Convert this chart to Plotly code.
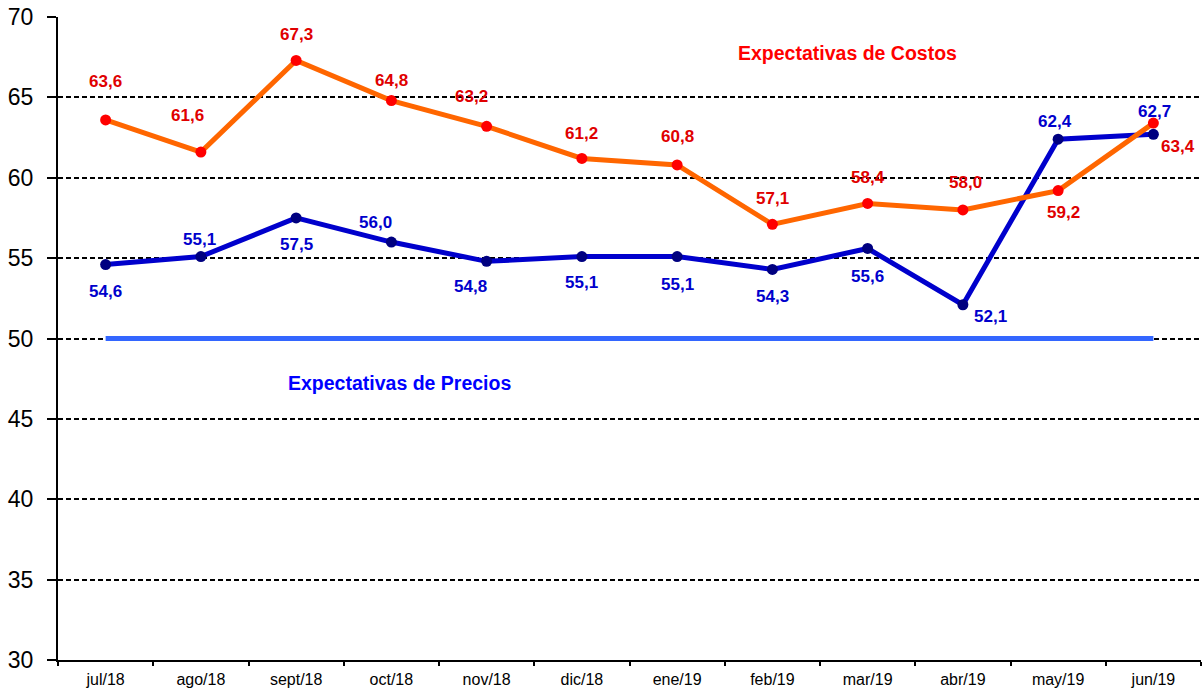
import plotly.graph_objects as go

categorias = ["jul/18", "ago/18", "sept/18", "oct/18", "nov/18", "dic/18",
              "ene/19", "feb/19", "mar/19", "abr/19", "may/19", "jun/19"]
costos = [63.6, 61.6, 67.3, 64.8, 63.2, 61.2, 60.8, 57.1, 58.4, 58.0, 59.2, 63.4]
precios = [54.6, 55.1, 57.5, 56.0, 54.8, 55.1, 55.1, 54.3, 55.6, 52.1, 62.4, 62.7]
umbral = 50

# label offsets in pixels (dx, dy; dy positive = up)
off_costos = [(0, 38), (-13, 37), (0, 26), (0, 20), (-15, 30), (0, 25),
              (0, 28), (0, 26), (0, 26), (3, 27), (5, -22), (25, -23)]
off_precios = [(0, -27), (-1, 17), (0, -27), (-16, 20), (-16, -25), (0, -26),
               (0, -28), (0, -27), (0, -28), (28, -12), (-3, 18), (1, 23)]

FONT = "Liberation Sans, Arial, sans-serif"

fig = go.Figure()

fig.add_trace(go.Scatter(
    x=[categorias[0], categorias[-1]], y=[umbral, umbral], mode="lines",
    line=dict(color="#3366FF", width=5), hoverinfo="skip", showlegend=False))

fig.add_trace(go.Scatter(
    x=categorias, y=precios, mode="lines+markers",
    line=dict(color="#0000CC", width=5),
    marker=dict(color="#000080", size=11), showlegend=False))

fig.add_trace(go.Scatter(
    x=categorias, y=costos, mode="lines+markers",
    line=dict(color="#FF6600", width=5),
    marker=dict(color="#FF0000", size=11), showlegend=False))

annotations = []
for i, v in enumerate(costos):
    dx, dy = off_costos[i]
    annotations.append(dict(
        x=i, y=v, xref="x", yref="y", text=f"{v:.1f}".replace(".", ","),
        showarrow=False, xshift=dx, yshift=dy,
        font=dict(family=FONT, size=17, color="#E00000", weight="bold")))
for i, v in enumerate(precios):
    dx, dy = off_precios[i]
    annotations.append(dict(
        x=i, y=v, xref="x", yref="y", text=f"{v:.1f}".replace(".", ","),
        showarrow=False, xshift=dx, yshift=dy,
        font=dict(family=FONT, size=17, color="#0000CC", weight="bold")))

annotations.append(dict(
    x=7.79, y=67.78, xref="x", yref="y", text="Expectativas de Costos",
    showarrow=False, font=dict(family=FONT, size=19.5, color="#FF0000", weight="bold")))
annotations.append(dict(
    x=3.09, y=47.24, xref="x", yref="y", text="Expectativas de Precios",
    showarrow=False, font=dict(family=FONT, size=19.5, color="#0000FF", weight="bold")))

fig.update_layout(
    width=1204, height=694,
    margin=dict(l=58, r=3, t=17, b=34, autoexpand=False),
    paper_bgcolor="white", plot_bgcolor="white",
    font=dict(family=FONT, color="black"),
    annotations=annotations,
    xaxis=dict(
        type="category", categoryorder="array", categoryarray=categorias,
        range=[-0.5, 11.5], tickson="boundaries", ticks="outside", ticklen=4,
        tickwidth=2, tickcolor="black", showline=True, linecolor="black",
        linewidth=2, showgrid=False, zeroline=False, automargin=False,
        ticklabelstandoff=4,
        tickfont=dict(size=16, family=FONT, color="black")),
    yaxis=dict(
        range=[30, 70], dtick=5, tick0=30, ticks="outside", ticklen=9,
        tickwidth=2, tickcolor="black", showline=True, linecolor="black",
        linewidth=2, showgrid=True, gridcolor="black", gridwidth=1.6,
        griddash="5px,3px", zeroline=False, automargin=False,
        ticklabelstandoff=9,
        tickfont=dict(size=23, family=FONT, color="black")),
)

fig.write_html(
    "out.html",
    config={"displayModeBar": False},
    post_script="document.body.style.margin='0';document.body.style.overflow='hidden';")
